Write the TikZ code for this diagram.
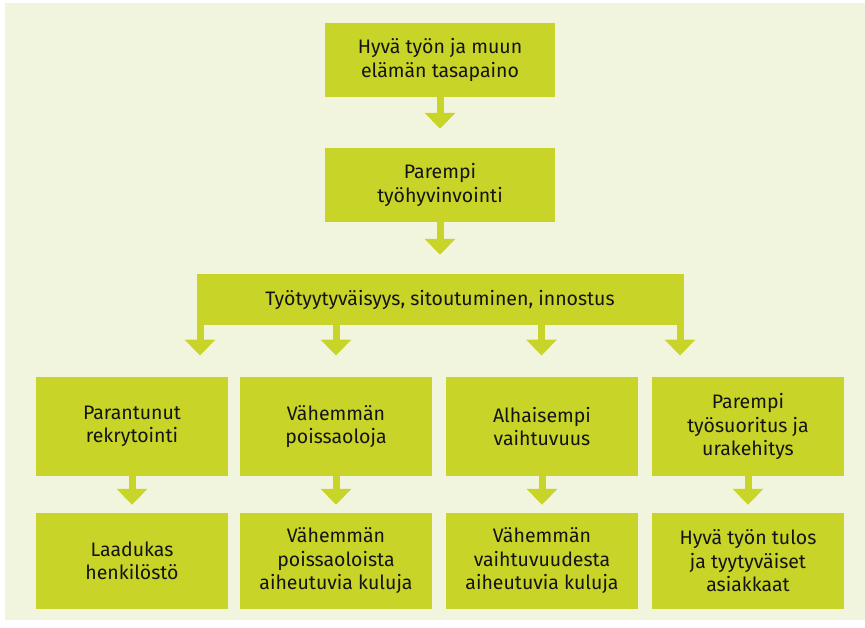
\documentclass[tikz,border=0pt]{standalone}
\usepackage{fontspec}
\setmainfont{Fira Sans}
\usetikzlibrary{arrows.meta}
\definecolor{lime}{RGB}{201,212,40}
\definecolor{cream}{RGB}{242,245,221}
\definecolor{ink}{RGB}{20,20,20}
\begin{document}
\begin{tikzpicture}[x=1pt,y=-1pt,
  box/.style={fill=lime, text=ink, align=center, inner sep=0pt,
    font=\fontsize{19.5}{23.5}\selectfont},
  arr/.style={draw=lime, line width=7pt, -{Triangle[width=30pt,length=16pt]}}]
\useasboundingbox (0,0) rectangle (865,627);
\fill[cream] (5,3) rectangle (865,620);

\node[box, minimum width=230pt, minimum height=74pt] (n1) at (440,60) {Hyvä työn ja muun\\elämän tasapaino};
\node[box, minimum width=230pt, minimum height=74pt] (n2) at (440,185) {Parempi\\työhyvinvointi};
\node[box, minimum width=487pt, minimum height=51pt] (bar) at (440,299.5) {Työtyytyväisyys, sitoutuminen, innostus};

\node[box, minimum width=192pt, minimum height=98.5pt] (r1) at (132,426.5) {Parantunut\\rekrytointi};
\node[box, minimum width=192pt, minimum height=98.5pt] (r2) at (336,426.5) {Vähemmän\\poissaoloja};
\node[box, minimum width=192pt, minimum height=98.5pt] (r3) at (542,426.5) {Alhaisempi\\vaihtuvuus};
\node[box, minimum width=192pt, minimum height=98.5pt] (r4) at (748,426.5) {Parempi\\työsuoritus ja\\urakehitys};

\node[box, minimum width=192pt, minimum height=96pt] (s1) at (132,561) {Laadukas\\henkilöstö};
\node[box, minimum width=192pt, minimum height=96pt] (s2) at (336,561) {Vähemmän\\poissaoloista\\aiheutuvia kuluja};
\node[box, minimum width=192pt, minimum height=96pt] (s3) at (542,561) {Vähemmän\\vaihtuvuudesta\\aiheutuvia kuluja};
\node[box, minimum width=192pt, minimum height=96pt] (s4) at (748,561) {Hyvä työn tulos\\ja tyytyväiset\\asiakkaat};

\draw[arr, shorten >=19pt] (n1.south) -- (n2.north);
\draw[arr, shorten >=19pt] (n2.south) -- (bar.north);

\coordinate (x1) at (200,0);
\coordinate (x2) at (336,0);
\coordinate (x3) at (541.5,0);
\coordinate (x4) at (680,0);
\draw[arr, shorten >=21.5pt] (bar.south -| x1) -- (r1.north -| x1);
\draw[arr, shorten >=21.5pt] (bar.south -| x2) -- (r2.north -| x2);
\draw[arr, shorten >=21.5pt] (bar.south -| x3) -- (r3.north -| x3);
\draw[arr, shorten >=21.5pt] (bar.south -| x4) -- (r4.north -| x4);

\draw[arr, shorten >=8pt] (r1.south) -- (s1.north);
\draw[arr, shorten >=8pt] (r2.south) -- (s2.north);
\draw[arr, shorten >=8pt] (r3.south) -- (s3.north);
\draw[arr, shorten >=8pt] (r4.south) -- (s4.north);
\end{tikzpicture}
\end{document}
